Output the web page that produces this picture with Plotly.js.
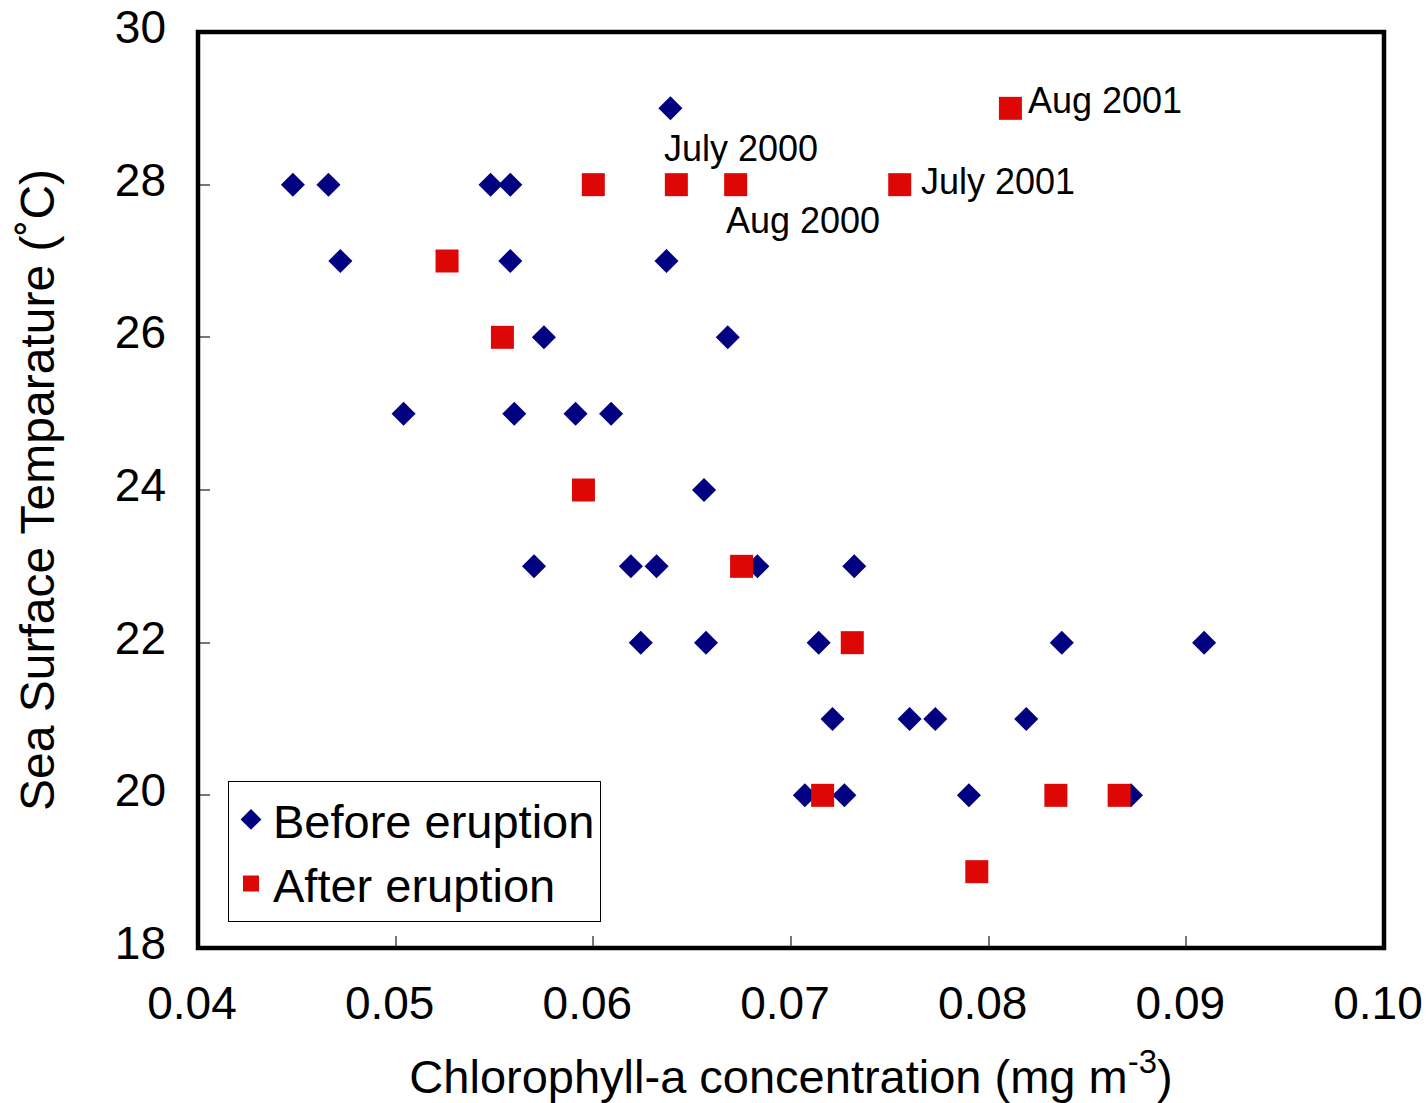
<!DOCTYPE html>
<html>
<head>
<meta charset="utf-8">
<script src="https://cdn.plot.ly/plotly-3.0.1.min.js"></script>
<style>
  html, body { margin: 0; padding: 0; background: #ffffff; }
  #chart { width: 1428px; height: 1103px; }
</style>
</head>
<body>
<div id="chart"></div>
<script>
// Chlorophyll-a concentration (mg m-3) vs sea surface temperature (deg C)
const beforeChl = [0.0639,
  0.0448, 0.0466, 0.0548, 0.0558,
  0.0472, 0.0558, 0.0637,
  0.0575, 0.0668,
  0.0504, 0.0560, 0.0591, 0.0609,
  0.0656,
  0.0570, 0.0619, 0.0632, 0.0683, 0.0732,
  0.0624, 0.0657, 0.0714, 0.0837, 0.0909,
  0.0721, 0.0760, 0.0773, 0.0819,
  0.0707, 0.0727, 0.0790, 0.0872];
const beforeSST = [29,
  28, 28, 28, 28,
  27, 27, 27,
  26, 26,
  25, 25, 25, 25,
  24,
  23, 23, 23, 23, 23,
  22, 22, 22, 22, 22,
  21, 21, 21, 21,
  20, 20, 20, 20];

const afterChl = [0.0811, 0.0600, 0.0642, 0.0672, 0.0755, 0.0526, 0.0554, 0.0595,
  0.0675, 0.0731, 0.0716, 0.0834, 0.0866, 0.0794];
const afterSST = [29, 28, 28, 28, 28, 27, 26, 24, 23, 22, 20, 20, 20, 19];

// Labelled months (after eruption points)
const monthLabels = ['July 2000', 'Aug 2000', 'July 2001', 'Aug 2001'];
const monthChl = [0.0642, 0.0672, 0.0755, 0.0811];
const monthSST = [28, 28, 28, 29];
const monthShiftX = [-14, -12, 19, 16];
const monthShiftY = [36, -36, 3, 8];

const xTickVals = [0.04, 0.05, 0.06, 0.07, 0.08, 0.09, 0.10];
const xTickText = ['0.04', '0.05', '0.06', '0.07', '0.08', '0.09', '0.10'];
const yTickVals = [18, 20, 22, 24, 26, 28, 30];

const FONT = '"Liberation Sans", Arial, Helvetica, sans-serif';

const traces = [
  {
    x: beforeChl, y: beforeSST, type: 'scatter', mode: 'markers',
    name: 'Before eruption',
    marker: { symbol: 'diamond', size: 18.5, color: '#000080', line: { width: 0 } }
  },
  {
    x: afterChl, y: afterSST, type: 'scatter', mode: 'markers',
    name: 'After eruption',
    marker: { symbol: 'square', size: 23, color: '#DD0806', line: { width: 0 } }
  }
];

const annotations = monthLabels.map((t, i) => ({
  x: monthChl[i], y: monthSST[i], xref: 'x', yref: 'y',
  text: t, showarrow: false,
  xanchor: 'left', yanchor: 'middle',
  xshift: monthShiftX[i], yshift: monthShiftY[i],
  font: { family: FONT, size: 36, color: '#000' }
}));

// heavy frame around the plotting area, centred on its edges
const frame = {
  type: 'rect', xref: 'paper', yref: 'paper',
  x0: 0, x1: 1, y0: 0, y1: 1,
  line: { color: '#000', width: 4.5 }, layer: 'above'
};

const layout = {
  width: 1428, height: 1103,
  margin: { l: 198, r: 44, t: 32, b: 155 },
  paper_bgcolor: '#ffffff', plot_bgcolor: '#ffffff',
  font: { family: FONT, size: 44, color: '#000' },
  showlegend: true,
  legend: {
    x: 0.0253, y: 0.028, xanchor: 'left', yanchor: 'bottom',
    bgcolor: '#ffffff', bordercolor: '#000', borderwidth: 1,
    font: { family: FONT, size: 47, color: '#000' },
    itemwidth: 34,
    tracegroupgap: 0
  },
  shapes: [frame],
  xaxis: {
    range: [0.04, 0.10], tickvals: xTickVals, ticktext: xTickText,
    showgrid: false, zeroline: false, showline: false,
    ticks: 'inside', ticklen: 12, tickwidth: 2, tickcolor: '#777',
    ticklabelstandoff: 24, ticklabelshift: -6,
    tickfont: { family: FONT, size: 46, color: '#000' },
    title: {
      text: 'Chlorophyll-a concentration (mg m<sup>-3</sup>)',
      font: { family: FONT, size: 47, color: '#000' },
      standoff: 32
    }
  },
  yaxis: {
    range: [18, 30], tickvals: yTickVals,
    showgrid: false, zeroline: false, showline: false,
    ticks: 'inside', ticklen: 12, tickwidth: 2, tickcolor: '#777',
    ticklabelstandoff: 31, ticklabelshift: -5,
    tickfont: { family: FONT, size: 46, color: '#000' },
    title: {
      text: 'Sea Surface Temparature (˚C)',
      font: { family: FONT, size: 48, color: '#000' },
      standoff: 45
    }
  },
  annotations: annotations
};

Plotly.newPlot('chart', traces, layout, { displayModeBar: false, staticPlot: true });
</script>
</body>
</html>
